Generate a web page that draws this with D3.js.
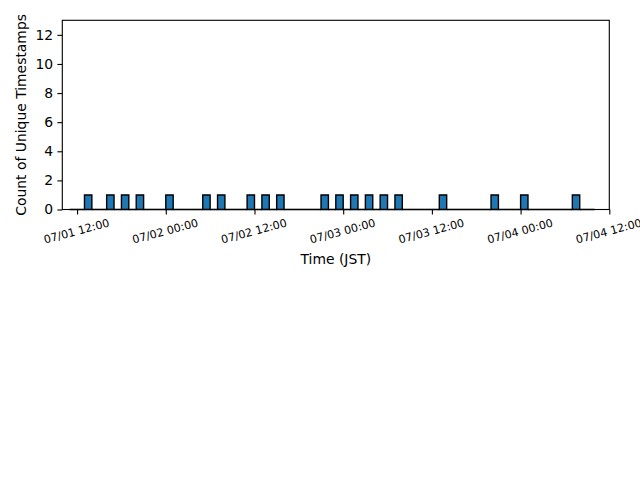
<!DOCTYPE html>
<html lang="en">
<head>
    <meta charset="UTF-8">
    <script src="https://cdn.jsdelivr.net/npm/d3@7"></script>
    <title>Unique Timestamps per Hour</title>
    <style>
        body { margin: 0; background: #fff; }
        text { font-family: "DejaVu Sans", sans-serif; fill: #000; }
    </style>
</head>
<body>
    <script>
        const w = 640;
        const h = 480;

        // histogram range (hourly bins, JST shown as UTC to keep wall-clock)
        const histStart = "2024-07-01T11:00";
        const histEnd = "2024-07-04T10:00";
        // hours that hold a timestamp and the count in each
        const binHours = [
            "2024-07-01T13:00", "2024-07-01T16:00", "2024-07-01T18:00", "2024-07-01T20:00",
            "2024-07-02T00:00", "2024-07-02T05:00", "2024-07-02T07:00", "2024-07-02T11:00",
            "2024-07-02T13:00", "2024-07-02T15:00", "2024-07-02T21:00", "2024-07-02T23:00",
            "2024-07-03T01:00", "2024-07-03T03:00", "2024-07-03T05:00", "2024-07-03T07:00",
            "2024-07-03T13:00", "2024-07-03T20:00", "2024-07-04T00:00", "2024-07-04T07:00"
        ];
        const binCounts = [1, 1, 1, 1, 1, 1, 1, 1, 1, 1, 1, 1, 1, 1, 1, 1, 1, 1, 1, 1];
        const xRange = ["2024-07-01T10:00", "2024-07-04T12:00"];
        const yTicks = [0, 2, 4, 6, 8, 10, 12];
        const yMax = 13;

        const parse = d3.utcParse("%Y-%m-%dT%H:%M");
        const plotL = 62.3, plotR = 609.3, plotT = 20.3, plotB = 209.5;

        const x = d3.scaleUtc()
            .domain(xRange.map(parse))
            .range([plotL, plotR]);
        const y = d3.scaleLinear()
            .domain([0, yMax])
            .range([plotB, plotT]);

        const countByHour = new Map(binHours.map((d, i) => [+parse(d), binCounts[i]]));
        const bins = d3.utcHour.range(parse(histStart), parse(histEnd)).map(t => ({
            t0: t,
            t1: d3.utcHour.offset(t, 1),
            n: countByHour.get(+t) || 0
        }));

        const svg = d3.select("body")
            .append("svg")
            .attr("width", w)
            .attr("height", h);

        // bars (zero-height bins still draw their outline as a flat line)
        svg.append("g")
            .selectAll("path")
            .data(bins)
            .enter()
            .append("path")
            .attr("d", d => {
                const x0 = x(d.t0), x1 = x(d.t1), y0 = y(0), y1 = y(d.n);
                return `M${x0},${y0}V${y1}H${x1}V${y0}Z`;
            })
            .attr("fill", "#1f77b4")
            .attr("stroke", "#000")
            .attr("stroke-width", 1.39)
            .attr("stroke-linejoin", "miter");

        // y axis
        const yAxis = svg.append("g")
            .attr("transform", `translate(${plotL},0)`)
            .call(d3.axisLeft(y).tickValues(yTicks).tickSize(4.9).tickPadding(4.2));
        yAxis.select(".domain").remove();
        yAxis.selectAll(".tick line").attr("stroke", "#000").attr("stroke-width", 1.11);
        yAxis.selectAll(".tick text")
            .style("font-size", "13.9px")
            .style("font-family", "DejaVu Sans, sans-serif");

        // x axis
        const xAxis = svg.append("g")
            .attr("transform", `translate(0,${plotB})`)
            .call(d3.axisBottom(x)
                .ticks(d3.utcHour.every(12))
                .tickFormat(d3.utcFormat("%m/%d %H:%M"))
                .tickSize(4.9));
        xAxis.select(".domain").remove();
        xAxis.selectAll(".tick line").attr("stroke", "#000").attr("stroke-width", 1.11);
        xAxis.selectAll(".tick text")
            .attr("y", 0)
            .attr("dy", null)
            .attr("text-anchor", "middle")
            .attr("dominant-baseline", "central")
            .attr("transform", "translate(-1,22) rotate(-15)")
            .style("font-size", "11.1px")
            .style("font-family", "DejaVu Sans, sans-serif");

        // frame
        svg.append("rect")
            .attr("x", plotL)
            .attr("y", plotT)
            .attr("width", plotR - plotL)
            .attr("height", plotB - plotT)
            .attr("fill", "none")
            .attr("stroke", "#000")
            .attr("stroke-width", 1.11);

        // labels
        svg.append("text")
            .attr("x", (plotL + plotR) / 2)
            .attr("y", 263.5)
            .attr("text-anchor", "middle")
            .style("font-size", "13.9px")
            .text("Time (JST)");

        svg.append("text")
            .attr("transform", `translate(21,${(plotT + plotB) / 2}) rotate(-90)`)
            .attr("text-anchor", "middle")
            .attr("dominant-baseline", "central")
            .style("font-size", "13.9px")
            .text("Count of Unique Timestamps");
    </script>
</body>
</html>
